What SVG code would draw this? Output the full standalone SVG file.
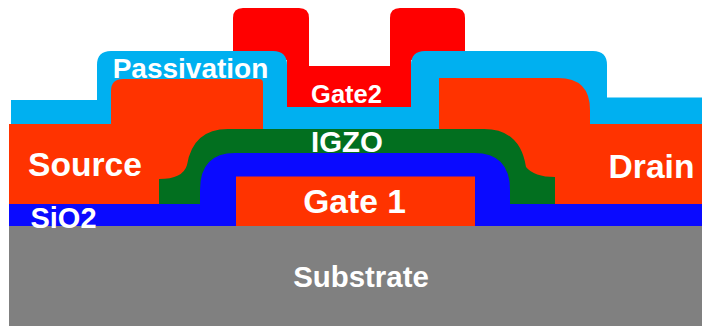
<svg xmlns="http://www.w3.org/2000/svg" width="702" height="327" viewBox="0 0 702 327">
<style>
.l{font-family:"Liberation Sans",Arial,sans-serif;fill:#fff;font-weight:700;text-anchor:middle}
.o{fill:#ff3300}
</style>
<rect width="702" height="327" fill="#fff"/>
<g id="gate2">
<path d="M233 51V18Q233 8 243 8H299Q309 8 309 18V66H390V18Q390 8 400 8H455Q465 8 465 18V60H411V107H287V60H233Z" fill="#ff0000"/>
<text class="l" x="346.500" y="102.500" font-size="25.500">Gate2</text>
</g>
<g id="passivation">
<path d="M11 100H97V65Q97 51 111 51H273Q287 51 287 65V107H411V65Q411 51 425 51H593Q607 51 607 65V97.500H702V130H11Z" fill="#00b0f0"/>
<text class="l" x="190.500" y="77.500" font-size="28">Passivation</text>
</g>
<g id="substrate">
<rect x="9" y="226" width="693" height="100" fill="#808080"/>
<text class="l" x="361" y="286.500" font-size="29.400">Substrate</text>
</g>
<g id="source">
<path class="o" d="M9 124H111V91Q111 79 123 79H259Q263 79 263 83V135H220V204H9Z"/>
<text class="l" x="85" y="176" font-size="33.600">Source</text>
</g>
<g id="drain">
<path class="o" d="M439 135V78H558Q590 78 590 110V124H702V204H480V135Z"/>
<text class="l" x="651.500" y="178" font-size="33.600">Drain</text>
</g>
<g id="igzo">
<path d="M159 204V179Q183 179 187 165Q193 129 228 129H484Q520 129 526 167Q534 177 555 177V204Z" fill="#026f1f"/>
<text class="l" x="347" y="152" font-size="29.400">IGZO</text>
</g>
<g id="sio2">
<path d="M9 204H200V190Q200 153 235 153H474Q510 153 510 190V204H702V226H9Z" fill="#0a0aff"/>
<text class="l" x="63.500" y="228" font-size="29">SiO2</text>
</g>
<g id="gate1">
<rect class="o" x="236" y="176.500" width="239" height="49.500"/>
<text class="l" x="354.500" y="213" font-size="33.600">Gate 1</text>
</g>
</svg>
